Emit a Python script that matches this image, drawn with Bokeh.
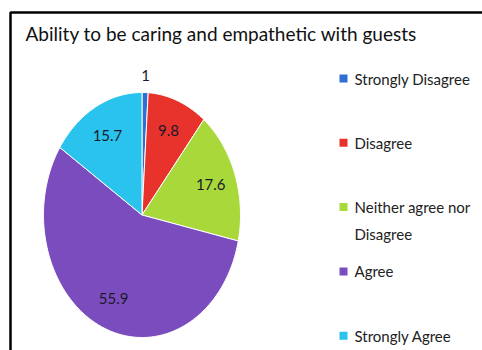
import numpy as np
from bokeh.plotting import figure
from bokeh.models import Range1d
from bokeh.core.properties import value
from bokeh.embed import file_html
from bokeh.resources import INLINE

title = "Ability to be caring and empathetic with guests"
categories = ["Strongly Disagree", "Disagree", "Neither agree nor\nDisagree", "Agree", "Strongly Agree"]
values = [1, 9.8, 17.6, 55.9, 15.7]
labels = ["1", "9.8", "17.6", "55.9", "15.7"]
colors = ["#2E6FD6", "#E8322C", "#A8D83A", "#7A4CBE", "#2AC3EE"]

FONT = "Lato"
W, H = 482, 350

p = figure(width=W, height=H, output_backend="svg", toolbar_location=None,
           x_range=Range1d(0, W), y_range=Range1d(H, 0),
           min_border=0, min_border_left=0, min_border_right=0,
           min_border_top=0, min_border_bottom=0)
p.axis.visible = False
p.grid.visible = False
p.outline_line_color = None
p.background_fill_color = "white"
p.border_fill_color = "white"

# frame border (left and top visible)
p.line([10, 10, W + 10], [H + 10, 12, 12], line_color="black", line_width=2.5)

p.text([25], [33], text=[title], text_font=value(FONT), text_font_size="19px",
       text_color="#111111", text_baseline="middle", text_align="left")

# elliptical pie
cx, cy, rx, ry = 141.5, 214.5, 98.5, 122.5
total = sum(values)
fr = np.array(values) / total
ends = np.cumsum(fr) * 2 * np.pi
starts = ends - fr * 2 * np.pi
xs, ys = [], []
for a0, a1 in zip(starts, ends):
    t = np.linspace(a0, a1, max(3, int((a1 - a0) * 60)))
    xs.append([cx] + list(cx + rx * np.sin(t)) + [cx])
    ys.append([cy] + list(cy - ry * np.cos(t)) + [cy])
p.patches(xs, ys, fill_color=colors, line_color="white", line_width=1)

# data labels
mids = (starts + ends) / 2
lx, ly = [], []
for v, m in zip(values, mids):
    f = 1.14 if v / total < 0.03 else 0.74
    lx.append(cx + rx * f * np.sin(m))
    ly.append(cy - ry * f * np.cos(m))
p.text(lx, ly, text=labels, text_font=value(FONT), text_font_size="15px",
       text_color="#1a1a2a", text_align="center", text_baseline="middle")

# legend
ly0, step, line_h = 78, 64.3, 27
leg_y = [ly0 + i * step for i in range(len(categories))]
p.rect([343] * len(categories), leg_y, width=8, height=8, fill_color=colors, line_color=None)
tx, ty, tt = [], [], []
for cat, y in zip(categories, leg_y):
    for j, line in enumerate(cat.split("\n")):
        tx.append(354)
        ty.append(y + j * line_h)
        tt.append(line)
p.text(tx, ty, text=tt, text_font=value(FONT),
       text_font_size="15px", text_color="#222222", text_align="left",
       text_baseline="middle")

open("out.html", "w").write(file_html(p, INLINE))
